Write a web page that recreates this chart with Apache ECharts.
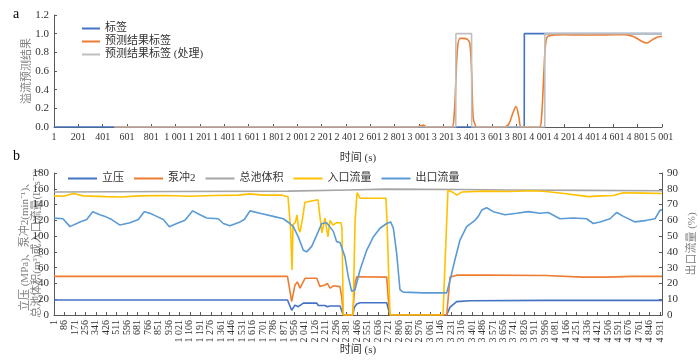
<!DOCTYPE html>
<html>
<head>
<meta charset="utf-8">
<script src="https://cdn.jsdelivr.net/npm/echarts@6/dist/echarts.min.js"></script>
<style>
  html, body { margin: 0; padding: 0; background: #fff; }
  #chart { width: 700px; height: 364px; }
</style>
</head>
<body>
<div id="chart"></div>
<script>
// ---- a: 溢流预测结果 ----
var topNames = ['标签', '预测结果标签', '预测结果标签 (处理)'];
var labelT = [1, 3868, 3869, 5001];
var labelV = [0, 0, 1, 1];
var predT = [496, 2980, 3010, 3038, 3065, 3270, 3290, 3306, 3320, 3340, 3370, 3400, 3420, 3435, 3448, 3465, 3480,
  3700, 3740, 3775, 3800, 3825, 3845, 3990, 4010, 4030, 4045, 4066, 4200, 4400, 4600, 4700, 4765, 4820, 4875, 4929, 4985, 5001];
var predV = [0, 0, 0.01, 0.02, 0, 0, 0.1, 0.5, 0.85, 0.95, 0.95, 0.94, 0.9, 0.6, 0.1, 0.02, 0,
  0, 0.03, 0.15, 0.22, 0.1, 0, 0, 0.1, 0.6, 0.9, 0.975, 0.99, 0.985, 0.99, 0.99, 0.97, 0.93, 0.9, 0.94, 0.97, 0.97];
var procT = [496, 3305, 3306, 3435, 3436, 4037, 4038, 5001];
var procV = [0, 0, 1, 1, 0, 0, 1, 1];

// ---- b: 录井参数 ----
var botNames = ['立压', '泵冲2', '总池体积', '入口流量', '出口流量'];
var liyaT = [1, 1900, 1915, 1934, 1961, 1988, 2029, 2042, 2138, 2150, 2164, 2205, 2224, 2246, 2273, 2327, 2341, 2354,
  2430, 2445, 2463, 2490, 2707, 2720, 2734, 3195, 3222, 3276, 3384, 4000, 4946];
var liyaV = [19, 19, 18, 6, 12.5, 10.5, 15, 15, 15, 12, 10.5, 12, 10.5, 11.5, 11.5, 11.5, 11, 0,
  0, 10, 14, 15.5, 15.5, 8, 0, 0, 10, 17, 18, 18.5, 18.5];
var bcT = [1, 1900, 1915, 1934, 1961, 1980, 2002, 2042, 2138, 2164, 2205, 2224, 2246, 2273, 2327, 2341, 2354,
  2430, 2449, 2463, 2707, 2720, 2734, 3195, 3222, 3276, 3500, 4000, 4300, 4500, 4700, 4946];
var bcV = [49, 49, 47, 17, 38, 42, 34, 46.5, 46.5, 36, 38, 40, 34, 37, 36, 23, 0,
  0, 40, 48.5, 48, 20, 0, 0, 48, 50.5, 50.5, 50, 48, 48, 49, 49];
var poolT = [1, 1000, 1900, 2400, 2700, 3300, 3700, 4300, 4946];
var poolV = [156, 156.5, 157, 158.5, 159.5, 159, 158.5, 158, 157.5];
var inT = [1, 80, 158, 240, 420, 540, 700, 900, 1100, 1300, 1500, 1595, 1700, 1850, 1904, 1925, 1937, 1945, 1965, 1977,
  1990, 2002, 2020, 2042, 2148, 2160, 2180, 2205, 2229, 2246, 2270, 2300, 2335, 2343, 2354, 2433, 2450, 2466, 2490,
  2600, 2701, 2709, 2734, 3165, 3190, 3205, 3240, 3278, 3319, 3500, 3700, 3900, 4000, 4150, 4300, 4350, 4450, 4550,
  4630, 4800, 4946];
var inV = [151, 150.5, 154, 151, 150, 149.5, 151, 151.5, 150.5, 151.5, 152, 153.5, 152, 152, 150, 110, 57, 114, 118, 127,
  110, 105, 120, 143, 146, 130, 104, 123, 99, 120, 114, 117, 117, 110, 0, 0, 120, 155, 148,
  148, 148, 120, 0, 0, 100, 158, 156, 152, 156, 157, 156.5, 157.5, 156.5, 154, 151, 150, 151, 151.5,
  155, 154.5, 154];
var outT = [1, 74, 131, 212, 267, 316, 375, 416, 470, 538, 551, 619, 687, 735, 782, 836, 890, 939, 999, 1066,
  1129, 1188, 1243, 1337, 1378, 1432, 1514, 1549, 1595, 1676, 1785, 1866, 1920, 1947, 1988, 2029, 2056, 2097, 2151, 2178,
  2219, 2273, 2300, 2327, 2367, 2394, 2422, 2449, 2490, 2544, 2598, 2652, 2707, 2739, 2761, 2788, 2815, 2842, 3005, 3195,
  3222, 3262, 3303, 3357, 3425, 3452, 3480, 3520, 3574, 3669, 3764, 3858, 3954, 4021, 4116, 4224, 4333, 4387, 4442, 4523,
  4578, 4632, 4727, 4822, 4889, 4930, 4946];
var outV = [61.5, 61, 56, 59, 60.5, 65.5, 63.5, 62.5, 60.5, 57, 56, 58.5, 60.5, 65.5, 64.5, 62.5, 60.5, 56, 58, 60,
  66, 63.5, 61.5, 61, 58, 56.5, 59, 60.5, 66, 64.5, 62.5, 61, 58, 56, 49.5, 41, 40, 43.5, 53, 58,
  58.5, 53, 46.5, 46, 37, 24.5, 15, 16, 28.5, 41, 49.5, 55, 58, 59, 55, 39, 16, 14.5, 14, 14,
  22, 35, 47.5, 56, 60, 62.5, 66.5, 68, 65.5, 63.5, 64.5, 65.5, 64.5, 65, 61, 61.5, 61, 58, 59, 61,
  65, 62.5, 59, 60, 61, 66.5, 66.5];

var FONT = '"Liberation Serif", "Noto Sans CJK SC", serif';
var axisCol = '#595959';

function pairs(ts, vs) {
  // axis starts at 0, so the first second (t=1) sits at x=0
  return ts.map(function (t, i) { return [t - 1, vs[i]]; });
}
function fmtNum(n) {
  return String(n).replace(/\B(?=(\d{3})+(?!\d))/g, ' ');
}

function xAxisOf(gridIndex, max, interval, rotate, nameGap) {
  return {
    type: 'value', gridIndex: gridIndex, min: 0, max: max, interval: interval,
    name: '时间 (s)', nameLocation: 'middle', nameGap: nameGap, nameMoveOverlap: false,
    nameTextStyle: { color: '#333', fontFamily: FONT, fontSize: 11 },
    axisLine: { lineStyle: { color: axisCol } },
    axisTick: { inside: true, length: 3, lineStyle: { color: axisCol } },
    splitLine: { show: false },
    axisLabel: {
      color: '#333', fontFamily: FONT, fontSize: 10, rotate: rotate, margin: 5,
      formatter: function (v) { return v % interval === 0 ? fmtNum(v + 1) : ''; }
    }
  };
}

function yAxisOf(gridIndex, max, interval, name, pos, nameGap, fmt) {
  return {
    type: 'value', gridIndex: gridIndex, min: 0, max: max, interval: interval, position: pos,
    name: name, nameLocation: 'middle', nameGap: nameGap, nameRotate: 90, nameMoveOverlap: false,
    nameTextStyle: { color: '#7f7f7f', fontFamily: FONT, fontSize: 11, lineHeight: 12 },
    axisLine: { show: true, lineStyle: { color: axisCol } },
    axisTick: { show: true, inside: true, length: 3, lineStyle: { color: axisCol } },
    splitLine: { show: false },
    axisLabel: { color: '#333', fontFamily: FONT, fontSize: 11, margin: 5, formatter: fmt }
  };
}

function lineSeries(name, data, color, xi, yi, extra) {
  var s = {
    name: name, type: 'line', data: data, xAxisIndex: xi, yAxisIndex: yi,
    showSymbol: false, symbol: 'none', lineStyle: { color: color, width: 1.6 }, itemStyle: { color: color }
  };
  for (var k in extra) s[k] = extra[k];
  return s;
}

var option = {
  animation: false,
  backgroundColor: '#fff',
  textStyle: { fontFamily: FONT },
  graphic: [
    { type: 'text', left: 13, top: 7, style: { text: 'a', font: '14px ' + FONT, fill: '#000' } },
    { type: 'text', left: 13, top: 149, style: { text: 'b', font: '14px ' + FONT, fill: '#000' } }
  ],
  legend: [
    {
      data: topNames, orient: 'vertical', left: 77, top: 18, itemGap: 2,
      itemWidth: 18, itemHeight: 2, icon: 'rect',
      textStyle: { color: '#333', fontFamily: FONT, fontSize: 11 }
    },
    {
      data: botNames, orient: 'horizontal', left: 63, top: 168, itemGap: 10,
      itemWidth: 29, itemHeight: 2, icon: 'rect',
      textStyle: { color: '#333', fontFamily: FONT, fontSize: 11 }
    }
  ],
  grid: [
    { left: 54, right: 38, top: 15, height: 112, outerBoundsMode: 'none' },
    { left: 54, right: 38, top: 173, height: 142, outerBoundsMode: 'none' }
  ],
  xAxis: [
    xAxisOf(0, 5000, 200, 0, 26),
    xAxisOf(1, 4945, 85, 90, 30)
  ],
  yAxis: [
    yAxisOf(0, 1.2, 0.2, '溢流预测结果', 'left', 21, function (v) { return v.toFixed(1); }),
    yAxisOf(1, 180, 20, '立压 (MPa)、泵冲2(min⁻¹)、\n总池体积(m³)或入口流量(L·s⁻¹)', 'left', 11, null),
    yAxisOf(1, 90, 10, '出口流量 (%)', 'right', 24, null)
  ],
  series: [
    lineSeries('标签', pairs(labelT, labelV), '#4472c4', 0, 0),
    lineSeries('预测结果标签', pairs(predT, predV), '#ed7d31', 0, 0, { smooth: 0.35 }),
    lineSeries('预测结果标签 (处理)', pairs(procT, procV), '#bfbfbf', 0, 0),
    lineSeries('立压', pairs(liyaT, liyaV), '#4472c4', 1, 1),
    lineSeries('泵冲2', pairs(bcT, bcV), '#ed7d31', 1, 1),
    lineSeries('总池体积', pairs(poolT, poolV), '#a5a5a5', 1, 1),
    lineSeries('入口流量', pairs(inT, inV), '#ffc000', 1, 1),
    lineSeries('出口流量', pairs(outT, outV), '#5b9bd5', 1, 2)
  ]
};

var chart = echarts.init(document.getElementById('chart'));
chart.setOption(option);
</script>
</body>
</html>
